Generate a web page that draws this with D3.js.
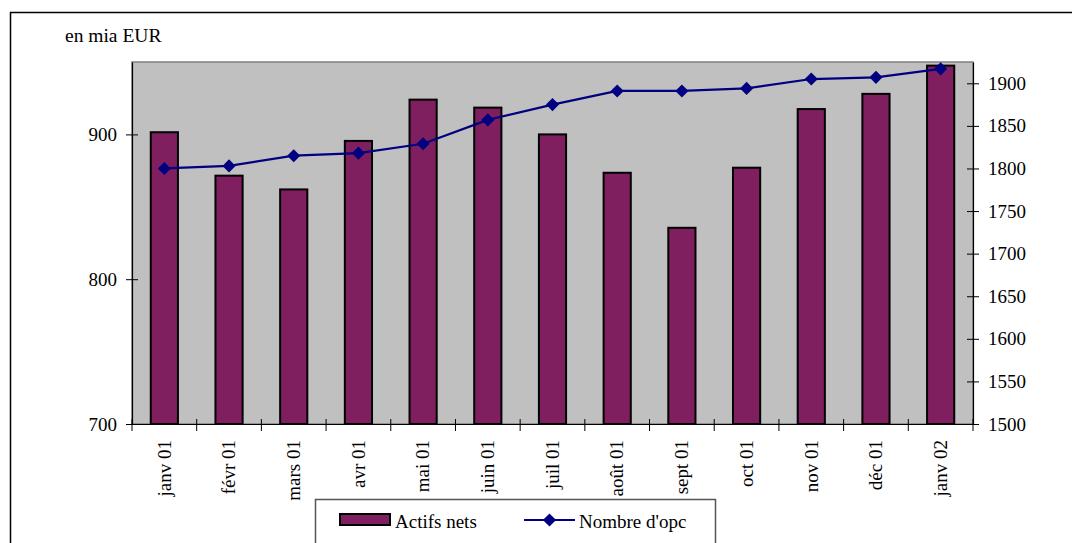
<!DOCTYPE html>
<html>
<head>
<meta charset="utf-8">
<script src="https://cdn.jsdelivr.net/npm/d3@7"></script>
<style>
  body { margin: 0; background: #fff; }
  svg text { font-family: 'Liberation Serif', 'DejaVu Serif', serif !important; }
</style>
</head>
<body>
<svg id="chart" width="1072" height="543"></svg>
<script>
const months = ['janv 01', 'févr 01', 'mars 01', 'avr 01', 'mai 01', 'juin 01', 'juil 01',
  'août 01', 'sept 01', 'oct 01', 'nov 01', 'déc 01', 'janv 02']
const actifsNets = [901.5, 871.5, 862, 895.5, 924, 918.5, 900, 873.5, 835.5, 877, 917.5, 928, 947.5]
const nombreOpc = [1800, 1803, 1815, 1818, 1829, 1857, 1875, 1891, 1891, 1894, 1905, 1907, 1917]
const leftTicks = [700, 800, 900]
const rightTicks = [1500, 1550, 1600, 1650, 1700, 1750, 1800, 1850, 1900]

const serif = "'Liberation Serif', 'DejaVu Serif', serif"
const fontSize = 19

const svg = d3.select('#chart').attr('font-family', serif)

const margin = { top: 62, left: 132, right: 973, bottom: 424 }

// outer frame, runs off the right and bottom edges
svg.append('rect')
  .attr('x', 10.5).attr('y', 12.5)
  .attr('width', 1100).attr('height', 600)
  .attr('fill', '#fff').attr('stroke', '#000').attr('stroke-width', 1.5)

const x = d3.scaleBand().domain(months).range([margin.left, margin.right])
const yL = d3.scaleLinear().domain([700, 950]).range([margin.bottom, margin.top])
const yR = d3.scaleLinear().domain([1500, 1925]).range([margin.bottom, margin.top])

// plot area
svg.append('rect')
  .attr('x', margin.left).attr('y', margin.top)
  .attr('width', margin.right - margin.left).attr('height', margin.bottom - margin.top)
  .attr('fill', '#c0c0c0').attr('stroke', '#808080').attr('stroke-width', 1.5)

// bars
const bw = x.bandwidth() * 0.42
svg.selectAll('.bar')
  .data(actifsNets)
  .enter().append('rect')
  .attr('class', 'bar')
  .attr('x', (d, i) => x(months[i]) + x.bandwidth() / 2 - bw / 2)
  .attr('y', d => yL(d))
  .attr('width', bw)
  .attr('height', d => margin.bottom - yL(d))
  .attr('fill', '#7f1f5f')
  .attr('stroke', '#000').attr('stroke-width', 2)

// line
const cx = (d, i) => x(months[i]) + x.bandwidth() / 2
svg.append('path')
  .datum(nombreOpc)
  .attr('d', d3.line().x(cx).y(d => yR(d)))
  .attr('fill', 'none').attr('stroke', '#000080').attr('stroke-width', 2.2)

const diamond = d3.symbol().type(d3.symbolDiamond2).size(110)
svg.selectAll('.marker')
  .data(nombreOpc)
  .enter().append('path')
  .attr('class', 'marker')
  .attr('transform', (d, i) => 'translate(' + cx(d, i) + ',' + yR(d) + ')')
  .attr('d', diamond)
  .attr('fill', '#000080')

// axes
const left = svg.append('g')
  .attr('transform', 'translate(' + margin.left + ',0)')
  .call(d3.axisLeft(yL).tickValues(leftTicks).tickFormat(d3.format('d'))
    .tickSizeInner(6).tickSizeOuter(0).tickPadding(9))
left.selectAll('.tick line').attr('x2', 6).attr('x1', -6)

const right = svg.append('g')
  .attr('transform', 'translate(' + margin.right + ',0)')
  .call(d3.axisRight(yR).tickValues(rightTicks).tickFormat(d3.format('d'))
    .tickSizeInner(6).tickSizeOuter(0).tickPadding(9))
right.selectAll('.tick line').attr('x1', -6).attr('x2', 6)

const bottom = svg.append('g')
  .attr('transform', 'translate(0,' + margin.bottom + ')')
  .call(d3.axisBottom(x).tickSize(0).tickPadding(0))

bottom.selectAll('.tick text')
  .attr('transform', 'rotate(-90)')
  .attr('x', -16).attr('y', 0).attr('dy', '0.33em')
  .attr('text-anchor', 'end')

// category separator ticks
const bounds = months.map(m => x(m)).concat([margin.right])
bottom.selectAll('.sep')
  .data(bounds)
  .enter().append('line')
  .attr('class', 'sep')
  .attr('x1', d => d).attr('x2', d => d)
  .attr('y1', -5).attr('y2', 7)
  .attr('stroke', '#000')

svg.selectAll('g').attr('font-family', serif)
svg.selectAll('.domain').attr('stroke', '#000').attr('stroke-width', 1.2)
svg.selectAll('.tick text').attr('font-size', fontSize).attr('fill', '#000')

// unit label
svg.append('text')
  .attr('x', 65).attr('y', 42)
  .attr('font-size', 19.5)
  .text('en mia EUR')

// legend
const lg = svg.append('g')
lg.append('rect')
  .attr('x', 315.5).attr('y', 499.5).attr('width', 400).attr('height', 60)
  .attr('fill', '#fff').attr('stroke', '#555').attr('stroke-width', 1.5)
lg.append('rect')
  .attr('x', 340).attr('y', 514).attr('width', 50).attr('height', 11)
  .attr('fill', '#7f1f5f').attr('stroke', '#000').attr('stroke-width', 2)
lg.append('text').attr('x', 395).attr('y', 528).attr('font-size', fontSize).text('Actifs nets')
lg.append('line')
  .attr('x1', 524).attr('x2', 575).attr('y1', 520).attr('y2', 520)
  .attr('stroke', '#000080').attr('stroke-width', 2.2)
lg.append('path')
  .attr('transform', 'translate(549.5,520)')
  .attr('d', diamond).attr('fill', '#000080')
lg.append('text').attr('x', 579).attr('y', 528).attr('font-size', fontSize).text("Nombre d'opc")
</script>
</body>
</html>
